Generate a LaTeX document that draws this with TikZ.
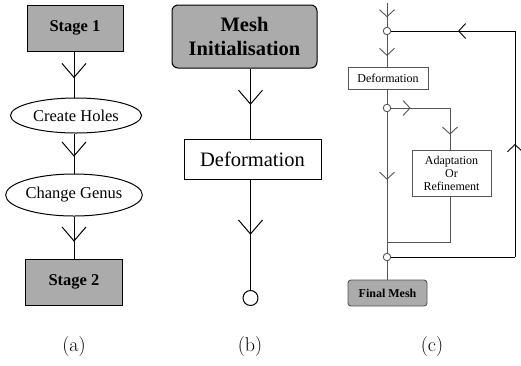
\documentclass[tikz,border=0pt]{standalone}
\usepackage{fontspec}
\newfontfamily\tnr{Liberation Serif}
\usetikzlibrary{shapes.geometric,arrows.meta,decorations.markings}

\definecolor{boxgray}{RGB}{171,171,171}
\definecolor{linegray}{RGB}{85,85,85}

\tikzset{
  midarrow/.style={postaction={decorate},decoration={markings,
      mark=at position #1 with {\arrow{Straight Barb[length=14pt,width=24pt,line width=1pt]}}}},
  smallarrow/.style={postaction={decorate},decoration={markings,
      mark=at position #1 with {\arrow{Straight Barb[length=7pt,width=15pt,line width=0.9pt]}}}},
  stagebox/.style={draw, fill=boxgray, font=\tnr\bfseries\fontsize{16.5}{19}\selectfont},
  stepoval/.style={draw, ellipse, inner sep=0pt, font=\tnr\fontsize{16.5}{19}\selectfont},
  smallbox/.style={draw, fill=white, inner sep=0pt, font=\tnr\fontsize{12}{13}\selectfont, align=center},
  junction/.style={draw, circle, fill=white, inner sep=0pt},
  caption/.style={font=\fontsize{20}{24}\selectfont}
}

\begin{document}
\begin{tikzpicture}[x=1pt, y=-1pt, line width=1pt]
    \useasboundingbox (0,0) rectangle (521,365);

    % (a) stage one to stage two
    \node[stagebox, minimum width=96pt, minimum height=46pt] (stage1) at (75,28) {Stage 1};
    \node[stepoval, minimum width=131pt, minimum height=35pt] (holes) at (76,115.5) {Create Holes};
    \node[stepoval, minimum width=134pt, minimum height=42pt] (genus) at (74,195) {Change Genus};
    \node[stagebox, minimum width=97pt, minimum height=46pt] (stage2) at (74,282) {Stage 2};

    \draw[midarrow=0.58] (stage1.south -| 74,0) -- (holes.north -| 74,0);
    \draw[midarrow=0.58] (holes.south -| 74,0) -- (genus.north -| 74,0);
    \draw[midarrow=0.6] (genus.south) -- (stage2.north);

    % (b) mesh initialisation
    \node[stagebox, rounded corners=6pt, minimum width=145pt, minimum height=63pt,
          align=center, font=\tnr\bfseries\fontsize{20.5}{24}\selectfont] (mesh) at (244.5,36.5) {Mesh\\Initialisation};
    \node[draw, fill=white, minimum width=137pt, minimum height=40pt,
          font=\tnr\fontsize{20.5}{24}\selectfont] (defb) at (252.5,159) {Deformation};
    \node[junction, minimum size=15pt] (endb) at (250.5,298) {};

    \draw[midarrow=0.52] (mesh.south -| endb) -- (defb.north -| endb);
    \draw[midarrow=0.5] (defb.south -| endb) -- (endb.north);

    % (c) adaptation loop
    \begin{scope}[line width=0.9pt, draw=linegray]
    \coordinate (ctop) at (387,3);
    \node[junction, minimum size=7.5pt] (c1) at (387,31) {};
    \node[smallbox, minimum width=80pt, minimum height=22pt] (defc) at (388,78) {Deformation};
    \node[junction, minimum size=7.5pt] (c2) at (387,108) {};
    \node[smallbox, minimum width=79pt, minimum height=46pt] (adapt) at (451.5,173) {Adaptation\\Or\\Refinement};
    \node[junction, minimum size=7.5pt] (c3) at (387,257) {};
    \node[smallbox, fill=boxgray, rounded corners=3pt, minimum width=79pt, minimum height=26pt,
          font=\tnr\bfseries\fontsize{12}{13}\selectfont] (final) at (387.5,293) {Final Mesh};
    \coordinate (branch) at (450,108);
    \coordinate (join) at (387,242);
    \coordinate (rtop) at (515,31);
    \coordinate (rbot) at (515,257);

    \draw[smallarrow=0.6] (ctop) -- (c1.north);
    \draw[smallarrow=0.66] (c1.south) -- (defc.north -| c1);
    \draw (defc.south -| c2) -- (c2.north);
    \draw[smallarrow=0.33] (c2.east) -- (branch);
    \draw[smallarrow=0.64] (branch) -- (adapt.north -| branch);
    \draw (adapt.south -| branch) |- (join);
    \draw[smallarrow=0.48] (c2.south) -- (c3.north);
    \draw (c3.south) -- (final.north -| c3);

    % loop back to the top
    \draw[black] (c3.east) -- (rbot);
    \draw[black, smallarrow=0.5] (rbot) -- (rtop);
    \draw[black, smallarrow=0.46] (rtop) -- (c1.east);
    \end{scope}

    % Captions
    \node[caption] (capa) at (74,346) {(a)};
    \node[caption] (capb) at (250,346) {(b)};
    \node[caption] (capc) at (432,346) {(c)};
\end{tikzpicture}
\end{document}
